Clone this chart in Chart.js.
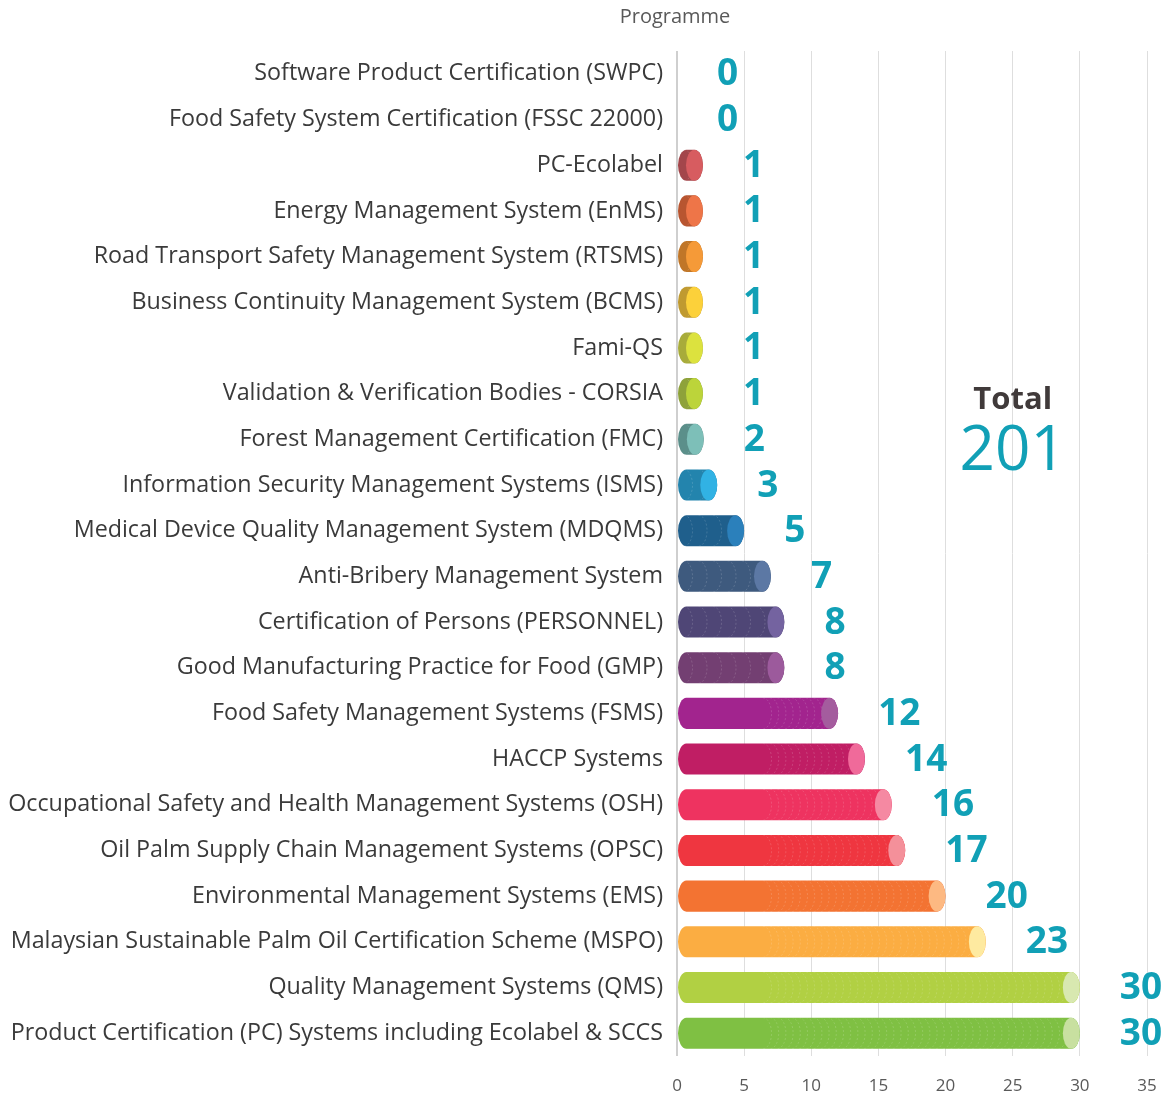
<!DOCTYPE html>
<html>
<head>
<meta charset="utf-8">
<script src="https://cdn.jsdelivr.net/npm/chart.js@4.4.1/dist/chart.umd.min.js"></script>
<style>
  html, body { margin: 0; padding: 0; background: #ffffff; }
  #wrap { width: 1171px; height: 1096px; }
</style>
</head>
<body>
<div id="wrap"><canvas id="c" width="1171" height="1096"></canvas></div>
<script>
const categories = [
  "Software Product Certification (SWPC)",
  "Food Safety System Certification (FSSC 22000)",
  "PC-Ecolabel",
  "Energy Management System (EnMS)",
  "Road Transport Safety Management System (RTSMS)",
  "Business Continuity Management System (BCMS)",
  "Fami-QS",
  "Validation & Verification Bodies - CORSIA",
  "Forest Management Certification (FMC)",
  "Information Security Management Systems (ISMS)",
  "Medical Device Quality Management System (MDQMS)",
  "Anti-Bribery Management System",
  "Certification of Persons (PERSONNEL)",
  "Good Manufacturing Practice for Food (GMP)",
  "Food Safety Management Systems (FSMS)",
  "HACCP Systems",
  "Occupational Safety and Health Management Systems (OSH)",
  "Oil Palm Supply Chain Management Systems (OPSC)",
  "Environmental Management Systems (EMS)",
  "Malaysian Sustainable Palm Oil Certification Scheme (MSPO)",
  "Quality Management Systems (QMS)",
  "Product Certification (PC) Systems including Ecolabel & SCCS"
];
const counts = [0, 0, 1, 1, 1, 1, 1, 1, 2, 3, 5, 7, 8, 8, 12, 14, 16, 17, 20, 23, 30, 30];
const axisTicks = [0, 5, 10, 15, 20, 25, 30, 35];
const titleText = "Programme";
const totalLabel = "Total";

const bodyColors = ["#999999", "#999999", "#a3464b", "#b85530", "#c07628", "#c09a30", "#a8ac3a", "#8ea23a",
  "#5b8f8a", "#2384ad", "#1f5f8c", "#3e5a7e", "#4f4676", "#733f72", "#a2248e", "#c01e64",
  "#ee3360", "#ef3640", "#f37332", "#fbad42", "#b1d043", "#7fc043"];
const capColors = ["#cccccc", "#cccccc", "#d75c60", "#ee7548", "#f59a38", "#fcd13a", "#dce23e", "#bcd43a",
  "#7dbfb8", "#31b2e4", "#2b80bb", "#5c78a4", "#7463a0", "#9c5a9c", "#a45c9e", "#f06a9a",
  "#f589a2", "#f4909a", "#fdb982", "#feeaa0", "#d8e8b0", "#c8e0a0"];

const total = counts.reduce((a, b) => a + b, 0);

const cylinderPlugin = {
  id: 'cylinders',
  afterDatasetsDraw(chart) {
    const ctx = chart.ctx;
    const meta = chart.getDatasetMeta(0);
    meta.data.forEach((bar, i) => {
      const v = counts[i];
      const p = bar.getProps(['x', 'y', 'base', 'height'], true);
      const x0 = p.base;
      const h = p.height;
      const top = p.y - h / 2, bot = p.y + h / 2, cy = p.y;
      const rx = 8.5, ry = h / 2;
      let xEnd = x0;
      if (v > 0) {
        xEnd = Math.max(p.x, x0 + 25);
        ctx.save();
        ctx.beginPath();
        ctx.moveTo(x0 + rx, top);
        ctx.lineTo(xEnd - rx, top);
        ctx.ellipse(xEnd - rx, cy, rx, ry, 0, -Math.PI / 2, Math.PI / 2);
        ctx.lineTo(x0 + rx, bot);
        ctx.ellipse(x0 + rx, cy, rx, ry, 0, Math.PI / 2, Math.PI * 1.5);
        ctx.closePath();
        ctx.fillStyle = bodyColors[i];
        ctx.fill();
        ctx.clip();
        // faint texture arcs
        ctx.strokeStyle = 'rgba(255,255,255,0.16)';
        ctx.lineWidth = 1;
        ctx.setLineDash([2, 2]);
        const capStart = xEnd - 2 * rx;
        let start, step;
        if (v >= 10) { start = x0 + 85; step = 7.2; } else { start = x0 + 6; step = 14.5; }
        for (let sx = start; sx < capStart; sx += step) {
          ctx.beginPath();
          ctx.ellipse(sx, cy, rx, ry, 0, -Math.PI / 2, Math.PI / 2);
          ctx.stroke();
        }
        ctx.setLineDash([]);
        ctx.beginPath();
        ctx.ellipse(xEnd - rx, cy, rx, ry, 0, 0, Math.PI * 2);
        ctx.fillStyle = capColors[i];
        ctx.fill();
        ctx.restore();
      }
      // value label
      ctx.save();
      ctx.font = 'bold 37px "Open Sans", sans-serif';
      ctx.fillStyle = '#11a0b6';
      ctx.textAlign = 'left';
      ctx.textBaseline = 'middle';
      ctx.fillText(String(v), xEnd + 40, cy + 1);
      ctx.restore();
    });
  },
  afterDraw(chart) {
    const ctx = chart.ctx;
    const xs = chart.scales.x;
    ctx.save();
    ctx.textAlign = 'center';
    ctx.textBaseline = 'middle';
    ctx.font = '20px "Open Sans", sans-serif';
    ctx.fillStyle = '#595959';
    ctx.fillText(titleText, 675, 17);
    const cx = xs.getPixelForValue(25);
    ctx.font = 'bold 31px "Open Sans", sans-serif';
    ctx.fillStyle = '#403a3a';
    ctx.fillText(totalLabel, cx, 400);
    ctx.font = '62px "Open Sans", sans-serif';
    ctx.fillStyle = '#11a0b6';
    ctx.fillText(String(total), cx, 452);
    ctx.restore();
  }
};

new Chart(document.getElementById('c'), {
  type: 'bar',
  data: {
    labels: categories,
    datasets: [{
      data: counts,
      backgroundColor: 'rgba(0,0,0,0)',
      borderWidth: 0,
      barPercentage: 0.68,
      categoryPercentage: 1.0
    }]
  },
  options: {
    indexAxis: 'y',
    responsive: false,
    animation: false,
    devicePixelRatio: 1,
    layout: { padding: { top: 51, right: 24, left: 0, bottom: 0 } },
    plugins: { legend: { display: false }, tooltip: { enabled: false }, title: { display: false } },
    scales: {
      x: {
        min: 0, max: 35,
        afterBuildTicks(scale) { scale.ticks = axisTicks.map(v => ({ value: v })); },
        afterFit(scale) { scale.height = 40; scale.paddingLeft = 0; scale.paddingRight = 0; },
        ticks: { font: { size: 17, family: '"Open Sans", sans-serif' }, color: '#595959', padding: 20, maxRotation: 0 },
        grid: {
          drawTicks: false,
          color: c => (c.tick && c.tick.value === 0) ? '#cfcfcf' : '#dedede',
          lineWidth: c => (c.tick && c.tick.value === 0) ? 2 : 1
        },
        border: { display: false }
      },
      y: {
        afterFit(scale) { scale.width = 677; scale.paddingTop = 0; scale.paddingBottom = 0; },
        ticks: { font: { size: 23.3, family: '"Open Sans", sans-serif' }, color: '#3a3a3a', padding: 14 },
        grid: { display: false, drawTicks: false },
        border: { display: false }
      }
    }
  },
  plugins: [cylinderPlugin]
});
</script>
</body>
</html>
